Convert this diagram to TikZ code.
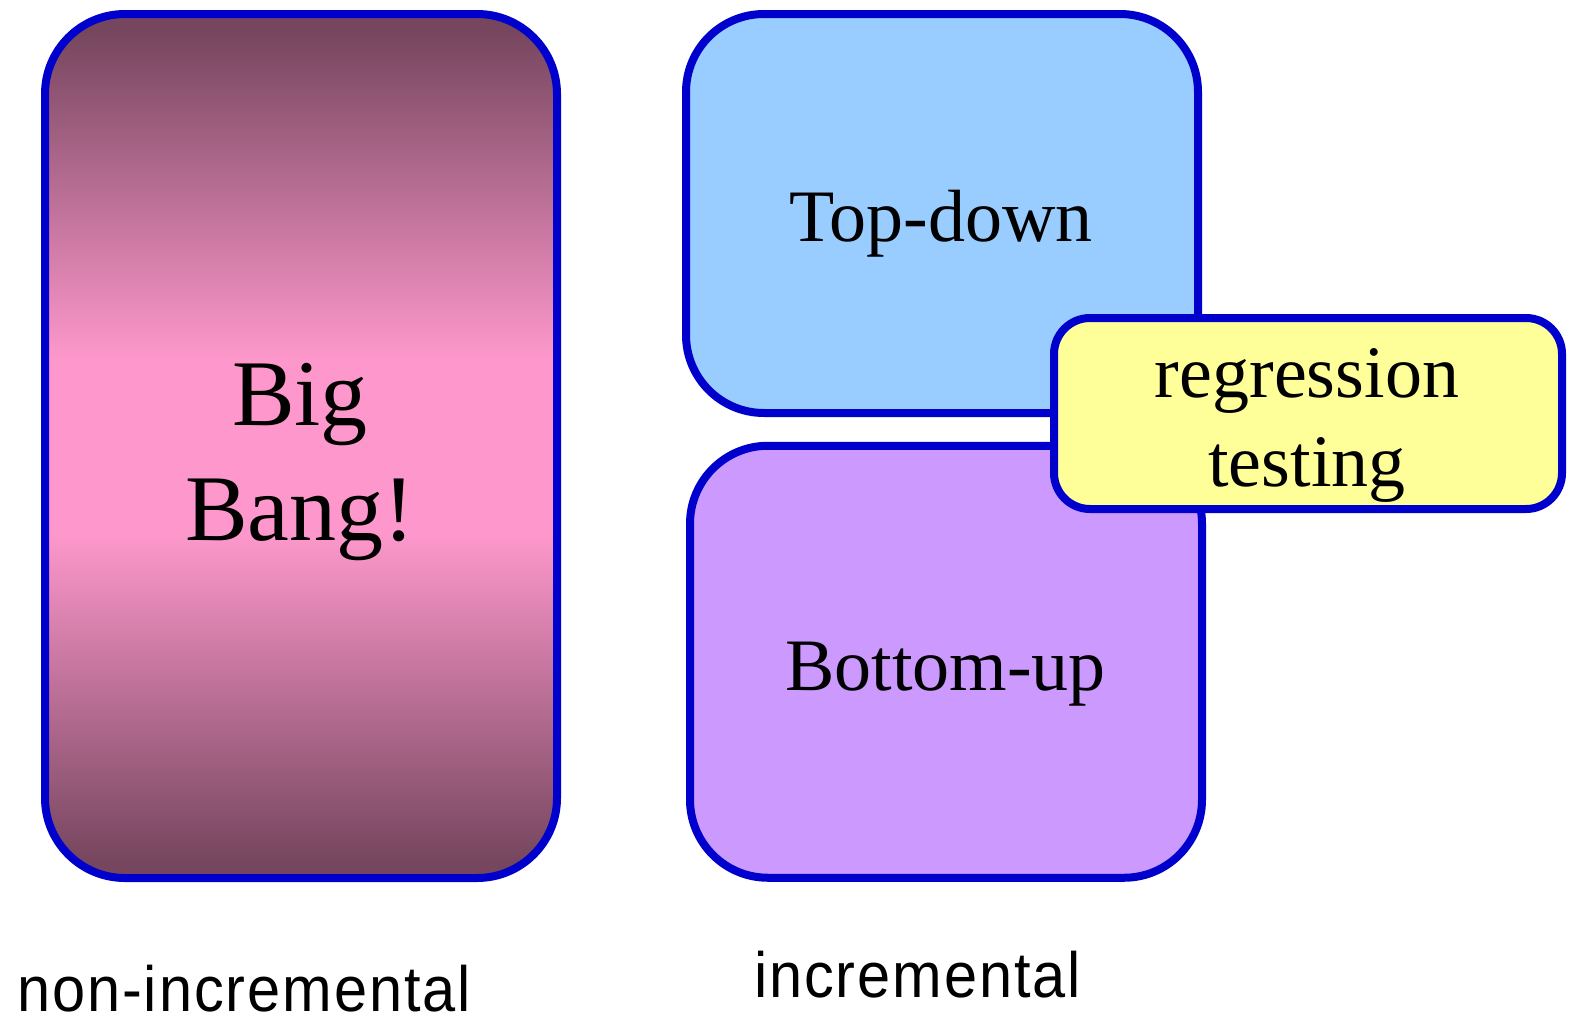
\documentclass[tikz,border=0pt]{standalone}
\usepackage{fontspec}
\setmainfont{Liberation Serif}
\newfontfamily\labelfont[FakeStretch=0.93, LetterSpace=3]{Liberation Sans}
\definecolor{edgeblue}{RGB}{0,0,204}
\definecolor{bbdark}{RGB}{118,70,94}
\definecolor{bbpink}{RGB}{254,152,204}
\definecolor{tdblue}{RGB}{153,204,255}
\definecolor{bulilac}{RGB}{204,153,255}
\definecolor{rtyellow}{RGB}{255,255,153}
% dark at both ends, pink plateau in the middle
\pgfdeclareverticalshading{bigbangshade}{100bp}{%
  color(0bp)=(bbdark); color(26bp)=(bbdark); color(45bp)=(bbpink);
  color(55bp)=(bbpink); color(74bp)=(bbdark); color(100bp)=(bbdark)}
\tikzset{
  panel/.style={draw=edgeblue, line width=8pt, inner sep=0pt, outer sep=0pt},
  bigtext/.style={font=\fontsize{94}{115}\selectfont, inner sep=0pt, anchor=base},
  midtext/.style={font=\fontsize{74}{90}\selectfont, inner sep=0pt, anchor=base},
  captext/.style={font=\labelfont\fontsize{64}{70}\selectfont, inner sep=0pt,
                  text depth=0pt, anchor=base west},
}
\begin{document}
\begin{tikzpicture}[x=1pt,y=-1pt]
\useasboundingbox (0,0) rectangle (1574,1018);

% non-incremental approach
\node[panel, rounded corners=80pt, minimum width=512pt, minimum height=864pt,
      shading=bigbangshade] (bigbang) at (301,446) {};
\node[bigtext] (bigA) at (300,425) {Big};
\node[bigtext] (bigB) at (300,540) {Bang!};

% incremental approaches
\node[panel, fill=tdblue, rounded corners=78pt, minimum width=512pt, minimum height=399pt] (topdown) at (942,213.5) {};
\node[midtext] (tdtext) at (941,241) {Top-down};

\node[panel, fill=bulilac, rounded corners=78pt, minimum width=512pt, minimum height=432pt] (bottomup) at (946,661.75) {};
\node[midtext] (butext) at (945.5,690) {Bottom-up};

\node[panel, fill=rtyellow, rounded corners=36pt, minimum width=508pt, minimum height=191pt] (regress) at (1308,413.5) {};
\node[midtext] (rtA) at (1307,397) {regression};
\node[midtext] (rtB) at (1307,486) {testing};

% captions
\node[captext] (capnon) at (17,1011) {non-incremental};
\node[captext] (capinc) at (754,997) {incremental};
\end{tikzpicture}
\end{document}
